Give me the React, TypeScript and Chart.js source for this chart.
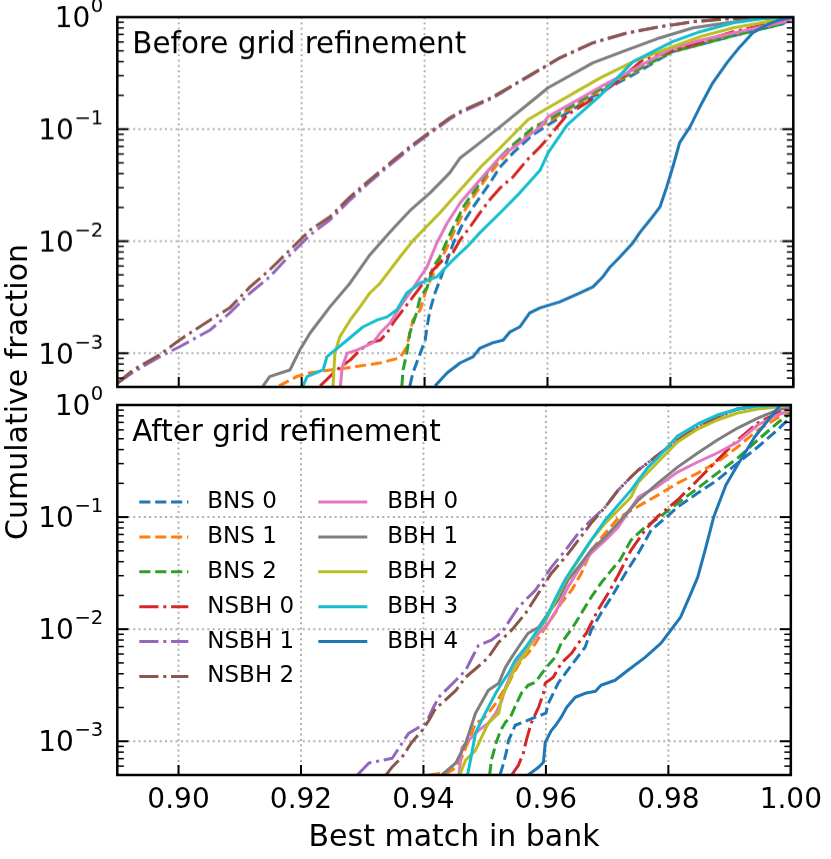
import { useEffect, useRef } from "react";
import { Chart, registerables } from "chart.js";

Chart.register(...registerables);

const FONT = "'DejaVu Sans', 'Liberation Sans', sans-serif";

// ---------- labels / categories ----------
const seriesNames = ["BNS 0", "BNS 1", "BNS 2", "NSBH 0", "NSBH 1", "NSBH 2", "BBH 0", "BBH 1", "BBH 2", "BBH 3", "BBH 4"];
const seriesColors = ["#1f77b4", "#ff7f0e", "#2ca02c", "#d62728", "#9467bd", "#8c564b", "#e377c2", "#7f7f7f", "#bcbd22", "#17becf", "#1f77b4"];
const seriesStyles = ["dashed", "dashed", "dashed", "dashdot", "dashdot", "dashdot", "solid", "solid", "solid", "solid", "solid"];
const xTickValues = [0.9, 0.92, 0.94, 0.96, 0.98, 1.0];
const yTickValues = [1e-3, 1e-2, 1e-1, 1];
const yTickBase = "10";
const yTickExponents = ["−3", "−2", "−1", "0"];
const panelTitles = ["Before grid refinement", "After grid refinement"];
const xAxisTitle = "Best match in bank";
const yAxisTitle = "Cumulative fraction";
const xMin = 0.89;
const xMax = 1.0;
const yMin = 5e-4;
const yMax = 1;

// ---------- Before grid refinement: [best match, cumulative fraction] ----------
const beforeBNS0 = [[0.9376,5.1e-4],[0.9381,6.7e-4],[0.9393,1.0e-3],[0.9401,1.31e-3],[0.9404,1.72e-3],[0.9409,2.44e-3],[0.9417,3.45e-3],[0.9425,4.5e-3],[0.9437,6.8e-3],[0.9447,9.66e-3],[0.9463,0.0146],[0.9479,0.0202],[0.9502,0.0305],[0.9523,0.046],[0.9544,0.0614],[0.9576,0.0889],[0.9601,0.109],[0.9686,0.215],[0.9739,0.305],[0.9803,0.49],[0.9902,0.68],[0.9983,0.87],[1.0,1.0]];
const beforeBNS1 = [[0.9163,5.1e-4],[0.9192,6.2e-4],[0.9214,6.7e-4],[0.9274,7.4e-4],[0.9328,8.2e-4],[0.936,9.1e-4],[0.9371,1.14e-3],[0.9381,1.98e-3],[0.9393,2.44e-3],[0.9404,3.91e-3],[0.942,5.9e-3],[0.9437,8.9e-3],[0.9447,0.0119],[0.9463,0.0179],[0.9479,0.0249],[0.9502,0.0375],[0.9523,0.0521],[0.9544,0.0695],[0.9576,0.0986],[0.9601,0.116],[0.9686,0.224],[0.9739,0.318],[0.9803,0.5],[0.9902,0.695],[0.9983,0.889],[1.0,1.0]];
const beforeBNS2 = [[0.9363,5.1e-4],[0.9365,7.1e-4],[0.9371,1.0e-3],[0.9376,1.52e-3],[0.9387,2.29e-3],[0.9393,3.18e-3],[0.9404,3.83e-3],[0.9414,5.9e-3],[0.9425,7.24e-3],[0.9437,0.0103],[0.9447,0.0134],[0.9463,0.0202],[0.9479,0.027],[0.9502,0.0407],[0.9523,0.0566],[0.9544,0.0724],[0.9576,0.1028],[0.9601,0.121],[0.9686,0.229],[0.9739,0.325],[0.9803,0.49],[0.9902,0.681],[0.9983,0.871],[1.0,1.0]];
const beforeNSBH0 = [[0.923,5.1e-4],[0.9257,7.1e-4],[0.9279,8.7e-4],[0.9295,1.07e-3],[0.9311,1.24e-3],[0.9328,1.31e-3],[0.9339,1.52e-3],[0.9349,1.87e-3],[0.9365,2.44e-3],[0.9381,3.18e-3],[0.9398,4.24e-3],[0.9414,5.55e-3],[0.943,6.8e-3],[0.9446,7.9e-3],[0.9458,0.0103],[0.9474,0.0134],[0.949,0.0179],[0.9506,0.0234],[0.9523,0.0299],[0.9544,0.0375],[0.9567,0.0532],[0.9588,0.0695],[0.9601,0.0836],[0.9632,0.134],[0.9686,0.205],[0.9713,0.264],[0.9756,0.42],[0.9803,0.5],[0.9902,0.739],[0.9983,0.927],[1.0,1.0]];
const beforeNSBH1 = [[0.89,5.4e-4],[0.8926,6.8e-4],[0.8969,9.3e-4],[0.9001,1.14e-3],[0.9051,1.61e-3],[0.9083,2.29e-3],[0.9116,3.45e-3],[0.9148,4.8e-3],[0.9181,7.55e-3],[0.9214,0.0114],[0.9246,0.0155],[0.9279,0.0234],[0.9311,0.0339],[0.9344,0.048],[0.9376,0.067],[0.9409,0.092],[0.9441,0.123],[0.9458,0.14],[0.9511,0.19],[0.9567,0.29],[0.962,0.43],[0.9674,0.59],[0.973,0.72],[0.9783,0.82],[0.9837,0.91],[0.9892,0.966],[1.0,1.0]];
const beforeNSBH2 = [[0.89,5.4e-4],[0.8926,7.1e-4],[0.8969,9.7e-4],[0.9001,1.31e-3],[0.9051,1.98e-3],[0.9083,2.54e-3],[0.9116,3.91e-3],[0.9148,5.55e-3],[0.9181,8.36e-3],[0.9214,0.0126],[0.9246,0.0165],[0.9279,0.0249],[0.9311,0.0353],[0.9344,0.05],[0.9376,0.0695],[0.9409,0.0946],[0.9441,0.126],[0.9458,0.143],[0.9511,0.194],[0.9567,0.293],[0.962,0.434],[0.9674,0.59],[0.973,0.724],[0.9783,0.819],[0.9837,0.908],[0.9892,0.966],[1.0,1.0]];
const beforeBBH0 = [[0.9263,5.1e-4],[0.9266,7.55e-4],[0.9274,1.0e-3],[0.929,1.07e-3],[0.9316,1.24e-3],[0.9328,1.52e-3],[0.9344,1.87e-3],[0.936,2.59e-3],[0.9376,3.45e-3],[0.9393,4.8e-3],[0.9404,5.9e-3],[0.942,9.66e-3],[0.9437,0.0146],[0.9458,0.022],[0.949,0.0352],[0.9523,0.0566],[0.9555,0.0755],[0.9588,0.105],[0.9601,0.129],[0.9686,0.238],[0.9739,0.338],[0.9803,0.53],[0.9848,0.62],[0.9902,0.72],[0.9957,0.84],[0.9994,0.93],[1.0,1.0]];
const beforeBBH1 = [[0.9137,5.1e-4],[0.9148,6.2e-4],[0.9181,7.1e-4],[0.9197,1.07e-3],[0.9214,1.52e-3],[0.9246,2.59e-3],[0.9279,4.24e-3],[0.9311,7.55e-3],[0.9344,0.0121],[0.9376,0.0187],[0.9409,0.027],[0.9441,0.0407],[0.9458,0.0554],[0.949,0.0755],[0.9523,0.105],[0.9567,0.165],[0.9601,0.234],[0.9674,0.391],[0.973,0.51],[0.9783,0.653],[0.9837,0.802],[0.9892,0.889],[0.9946,0.966],[1.0,1.0]];
const beforeBBH2 = [[0.9251,5.1e-4],[0.9254,1.0e-3],[0.9262,1.4e-3],[0.9279,1.98e-3],[0.9295,2.59e-3],[0.9311,3.45e-3],[0.9328,4.24e-3],[0.9344,5.55e-3],[0.936,7.24e-3],[0.9381,0.0101],[0.9425,0.0179],[0.9458,0.0287],[0.949,0.0451],[0.9523,0.068],[0.9568,0.121],[0.9601,0.155],[0.9686,0.287],[0.9739,0.399],[0.9803,0.543],[0.9848,0.667],[0.9902,0.802],[0.9957,0.908],[1.0,1.0]];
const beforeBBH3 = [[0.9202,5.1e-4],[0.9209,6.2e-4],[0.9235,7.1e-4],[0.9241,9.3e-4],[0.9274,1.31e-3],[0.93,1.72e-3],[0.9323,1.98e-3],[0.9339,2.11e-3],[0.9355,2.44e-3],[0.9371,3.45e-3],[0.9393,4.24e-3],[0.942,4.8e-3],[0.9446,6.8e-3],[0.9469,8.9e-3],[0.949,0.0119],[0.9523,0.0179],[0.9555,0.027],[0.9588,0.043],[0.9601,0.0615],[0.9632,0.109],[0.9686,0.2],[0.9739,0.399],[0.9803,0.602],[0.9848,0.739],[0.9902,0.889],[0.9957,0.986],[1.0,1.0]];
const beforeBBH4 = [[0.9417,5.1e-4],[0.9437,6.7e-4],[0.9458,8.2e-4],[0.9479,9.3e-4],[0.949,1.11e-3],[0.9511,1.24e-3],[0.9528,1.31e-3],[0.9539,1.55e-3],[0.9555,1.72e-3],[0.9571,2.29e-3],[0.9588,2.54e-3],[0.962,2.87e-3],[0.9653,3.45e-3],[0.9674,3.91e-3],[0.969,4.8e-3],[0.9702,5.9e-3],[0.9718,7.24e-3],[0.9739,9.66e-3],[0.975,0.0119],[0.9767,0.0155],[0.9783,0.0202],[0.9794,0.0305],[0.9804,0.046],[0.9815,0.0755],[0.9832,0.105],[0.9848,0.158],[0.9869,0.259],[0.9892,0.391],[0.9913,0.543],[0.9934,0.724],[0.9957,0.853],[0.9978,0.946],[1.0,1.0]];

// ---------- After grid refinement ----------
const afterBNS0 = [[0.9525,5e-4],[0.9531,6.4e-4],[0.9536,8.3e-4],[0.9539,1.02e-3],[0.955,1.39e-3],[0.9567,1.51e-3],[0.9583,1.64e-3],[0.96,1.78e-3],[0.9604,2.18e-3],[0.9612,2.68e-3],[0.962,3.3e-3],[0.9632,4.05e-3],[0.9648,5.3e-3],[0.9664,6.9e-3],[0.9674,9.8e-3],[0.969,0.0139],[0.9707,0.0193],[0.973,0.0316],[0.9751,0.0477],[0.9772,0.0766],[0.9795,0.098],[0.9815,0.123],[0.9848,0.164],[0.988,0.214],[0.9913,0.303],[0.9946,0.422],[0.9978,0.598],[1.0,0.782]];
const afterBNS1 = [[0.9409,5e-4],[0.9441,5.3e-4],[0.9454,5.86e-4],[0.9461,6.8e-4],[0.9469,8.8e-4],[0.9479,1.18e-3],[0.9485,1.45e-3],[0.9495,1.54e-3],[0.9506,1.78e-3],[0.9518,2.18e-3],[0.9528,2.68e-3],[0.9539,3.3e-3],[0.955,4.3e-3],[0.956,5.3e-3],[0.9571,6.1e-3],[0.9583,7.5e-3],[0.9593,9.2e-3],[0.9604,0.0113],[0.9615,0.0139],[0.9625,0.0171],[0.9642,0.0223],[0.9658,0.0316],[0.9674,0.0507],[0.9697,0.072],[0.9718,0.098],[0.9751,0.125],[0.9783,0.157],[0.9815,0.201],[0.9848,0.247],[0.988,0.31],[0.9913,0.422],[0.9946,0.598],[0.9978,0.765],[1.0,0.866]];
const afterBNS2 = [[0.9508,5e-4],[0.9511,6.8e-4],[0.9519,9.8e-4],[0.9526,1.25e-3],[0.9534,1.48e-3],[0.9542,1.64e-3],[0.9552,2.18e-3],[0.956,2.68e-3],[0.9571,3.16e-3],[0.9583,3.37e-3],[0.9591,3.88e-3],[0.9601,4.58e-3],[0.9615,5.6e-3],[0.9625,7.5e-3],[0.9637,9.2e-3],[0.9648,0.0113],[0.9658,0.0139],[0.9674,0.0193],[0.969,0.0258],[0.9707,0.0336],[0.9721,0.0413],[0.9739,0.0623],[0.9762,0.0814],[0.9788,0.102],[0.9815,0.133],[0.9848,0.181],[0.988,0.247],[0.9913,0.336],[0.9946,0.487],[0.9978,0.69],[1.0,0.849]];
const afterNSBH0 = [[0.9544,5e-4],[0.9555,6.1e-4],[0.9563,7.8e-4],[0.9568,1.02e-3],[0.9576,1.45e-3],[0.9588,2.01e-3],[0.9596,2.68e-3],[0.9599,3.3e-3],[0.9612,3.73e-3],[0.9625,4.97e-3],[0.9642,6.1e-3],[0.9653,7.5e-3],[0.9666,9.2e-3],[0.9674,0.0113],[0.9685,0.0148],[0.9702,0.021],[0.9718,0.0303],[0.9739,0.0507],[0.9762,0.0766],[0.9783,0.102],[0.9815,0.142],[0.9848,0.214],[0.988,0.323],[0.9913,0.487],[0.9946,0.69],[0.9978,0.849],[1.0,0.94]];
const afterNSBH1 = [[0.9292,5e-4],[0.9311,6.4e-4],[0.9349,7.05e-4],[0.9365,9.6e-4],[0.9376,1.18e-3],[0.9404,1.45e-3],[0.9414,1.89e-3],[0.9425,2.47e-3],[0.9453,3.5e-3],[0.9469,4.3e-3],[0.9479,5.5e-3],[0.949,7.2e-3],[0.9511,7.98e-3],[0.9528,9.4e-3],[0.9555,0.0157],[0.9583,0.0223],[0.9609,0.0358],[0.9632,0.0507],[0.9653,0.072],[0.9674,0.094],[0.9697,0.123],[0.9718,0.174],[0.9739,0.228],[0.9751,0.263],[0.9783,0.358],[0.9815,0.487],[0.9848,0.636],[0.988,0.782],[0.9913,0.921],[0.9946,0.98],[1.0,1.0]];
const afterNSBH2 = [[0.9339,5e-4],[0.9349,5.9e-4],[0.9365,7.2e-4],[0.9381,9.8e-4],[0.9398,1.25e-3],[0.9409,1.54e-3],[0.942,1.97e-3],[0.943,2.18e-3],[0.9453,2.85e-3],[0.9469,3.73e-3],[0.949,4.67e-3],[0.9506,5.6e-3],[0.9523,7.65e-3],[0.9544,9.8e-3],[0.9567,0.0139],[0.9588,0.021],[0.9609,0.0316],[0.9632,0.044],[0.9653,0.0623],[0.9674,0.0884],[0.9697,0.123],[0.9718,0.174],[0.9739,0.228],[0.9751,0.263],[0.9783,0.358],[0.9815,0.487],[0.9848,0.636],[0.988,0.782],[0.9913,0.921],[0.9946,0.98],[1.0,1.0]];
const afterBBH0 = [[0.9458,5e-4],[0.9463,8.8e-4],[0.9474,1.02e-3],[0.949,1.25e-3],[0.9506,1.45e-3],[0.9518,1.78e-3],[0.9528,2.32e-3],[0.9534,3.03e-3],[0.9544,4.05e-3],[0.9555,5.3e-3],[0.9571,6.9e-3],[0.9588,9.2e-3],[0.9604,0.0113],[0.962,0.0157],[0.9636,0.0237],[0.9653,0.0336],[0.9674,0.0477],[0.9697,0.0623],[0.9718,0.0814],[0.9751,0.151],[0.9783,0.189],[0.9815,0.252],[0.9848,0.31],[0.988,0.373],[0.9913,0.467],[0.9946,0.663],[0.9978,0.814],[1.0,0.9]];
const afterBBH1 = [[0.943,5e-4],[0.9453,6.4e-4],[0.9469,9.6e-4],[0.9485,1.78e-3],[0.9506,2.85e-3],[0.9523,3.3e-3],[0.9534,4.58e-3],[0.9544,5.6e-3],[0.9555,6.9e-3],[0.9571,9.2e-3],[0.9588,0.0104],[0.9604,0.0139],[0.962,0.0182],[0.9636,0.0274],[0.9653,0.0358],[0.9674,0.0507],[0.9697,0.0663],[0.9718,0.0884],[0.9751,0.142],[0.9783,0.201],[0.9815,0.279],[0.9848,0.373],[0.988,0.487],[0.9913,0.623],[0.9946,0.765],[0.9978,0.9],[1.0,0.96]];
const afterBBH2 = [[0.9459,5e-4],[0.9469,6.8e-4],[0.9485,8.3e-4],[0.9495,1.09e-3],[0.9506,1.45e-3],[0.9523,1.78e-3],[0.9528,2.47e-3],[0.9539,3.3e-3],[0.955,4.58e-3],[0.9567,6.1e-3],[0.9583,9.2e-3],[0.96,0.012],[0.9616,0.0182],[0.9632,0.0274],[0.9653,0.0413],[0.9674,0.0623],[0.9697,0.0884],[0.9718,0.115],[0.9739,0.151],[0.9751,0.205],[0.9783,0.31],[0.9815,0.467],[0.9848,0.61],[0.988,0.735],[0.9913,0.849],[0.9946,0.92],[0.9978,0.96],[1.0,0.99]];
const afterBBH3 = [[0.9472,5e-4],[0.9479,7.8e-4],[0.9485,1.18e-3],[0.9495,1.54e-3],[0.9506,2.01e-3],[0.9518,2.68e-3],[0.9528,3.3e-3],[0.9539,4.05e-3],[0.955,5.3e-3],[0.9567,6.9e-3],[0.9583,9.2e-3],[0.96,0.0125],[0.9616,0.019],[0.9632,0.028],[0.9653,0.042],[0.9674,0.0623],[0.9697,0.094],[0.9718,0.128],[0.9739,0.174],[0.9751,0.214],[0.9767,0.279],[0.9783,0.34],[0.9815,0.529],[0.9848,0.677],[0.988,0.814],[0.9913,0.921],[0.9946,0.98],[1.0,1.0]];
const afterBBH4 = [[0.9571,5e-4],[0.9588,5.86e-4],[0.9596,6.5e-4],[0.9599,9.8e-4],[0.9609,1.25e-3],[0.9616,1.39e-3],[0.9625,1.64e-3],[0.9634,2.01e-3],[0.9648,2.47e-3],[0.9664,2.68e-3],[0.9681,2.79e-3],[0.969,3.16e-3],[0.9713,3.5e-3],[0.9734,4.3e-3],[0.9762,5.6e-3],[0.9788,7.5e-3],[0.9804,9.8e-3],[0.982,0.0128],[0.9837,0.021],[0.9848,0.0291],[0.986,0.0507],[0.9874,0.1],[0.9894,0.193],[0.9913,0.291],[0.9941,0.518],[0.9967,0.782],[0.9983,1.0],[1.0,1.0]];

const beforeSeries = [beforeBNS0, beforeBNS1, beforeBNS2, beforeNSBH0, beforeNSBH1, beforeNSBH2, beforeBBH0, beforeBBH1, beforeBBH2, beforeBBH3, beforeBBH4];
const afterSeries = [afterBNS0, afterBNS1, afterBNS2, afterNSBH0, afterNSBH1, afterNSBH2, afterBBH0, afterBBH1, afterBBH2, afterBBH3, afterBBH4];

// ---------- styling ----------
const LINE_W = 3;
function dashFor(style: string): number[] {
  if (style === "dashed") return [11.1, 4.8];
  if (style === "dashdot") return [19.2, 4.8, 3, 4.8];
  return [];
}

const FIG_W = 831;
const FIG_H = 859;
const AREA_LEFT = 117.3;
const AREA_RIGHT = 793.3;
const TOP_AREA_TOP = 17.3;
const TOP_AREA_BOTTOM = 386.7;
const BOT_AREA_TOP = 405;
const BOT_AREA_BOTTOM = 775;
const VPAD = 34;
const TOP_CANVAS_TOP = TOP_AREA_TOP - VPAD;
const TOP_CANVAS_H = TOP_AREA_BOTTOM + VPAD - TOP_CANVAS_TOP;
const BOT_CANVAS_TOP = BOT_AREA_TOP - VPAD;
const BOT_CANVAS_H = FIG_H - BOT_CANVAS_TOP;
const TICK_FONT = 28;
const SUP_FONT = 19.6;

function makeDatasets(series: number[][][]) {
  return series.map((pts, i) => ({
    label: seriesNames[i],
    data: pts.map(([x, y]) => ({ x, y })),
    borderColor: seriesColors[i],
    backgroundColor: seriesColors[i],
    borderWidth: LINE_W,
    borderDash: dashFor(seriesStyles[i]),
    borderCapStyle: "butt" as const,
    borderJoinStyle: "round" as const,
    pointRadius: 0,
    pointHoverRadius: 0,
    fill: false,
    tension: 0,
    order: series.length - i,
  }));
}

function line(ctx: CanvasRenderingContext2D, x1: number, y1: number, x2: number, y2: number) {
  ctx.beginPath();
  ctx.moveTo(x1, y1);
  ctx.lineTo(x2, y2);
  ctx.stroke();
}

function framePlugin(panelIndex: number) {
  return {
    id: "mplFrame" + panelIndex,
    beforeDatasetsDraw(chart: any) {
      const { ctx, chartArea } = chart;
      const { left, right, top, bottom } = chartArea;
      const xs = chart.scales.x;
      const ys = chart.scales.y;
      ctx.save();
      ctx.strokeStyle = "#b0b0b0";
      ctx.lineWidth = 2;
      ctx.setLineDash([2, 3.3]);
      for (const v of xTickValues) {
        const px = xs.getPixelForValue(v);
        if (px <= left + 1 || px >= right - 1) continue;
        line(ctx, px, top, px, bottom);
      }
      for (const v of yTickValues) {
        const py = ys.getPixelForValue(v);
        if (py <= top + 1 || py >= bottom - 1) continue;
        line(ctx, left, py, right, py);
      }
      ctx.restore();
    },
    afterDatasetsDraw(chart: any) {
      const { ctx, chartArea } = chart;
      const { left, right, top, bottom } = chartArea;
      const xs = chart.scales.x;
      const ys = chart.scales.y;
      ctx.save();
      ctx.setLineDash([]);
      ctx.strokeStyle = "#000";
      ctx.lineWidth = 2;
      for (const v of yTickValues) {
        const py = ys.getPixelForValue(v);
        if (py < top - 0.5 || py > bottom + 0.5) continue;
        line(ctx, left, py, left + 11, py);
        line(ctx, right, py, right - 11, py);
      }
      ctx.lineWidth = 1.5;
      for (let d = -4; d <= 0; d++) {
        for (let m = 2; m <= 9; m++) {
          const v = m * Math.pow(10, d);
          if (v <= yMin * 1.001 || v >= yMax) continue;
          const py = ys.getPixelForValue(v);
          line(ctx, left, py, left + 6.5, py);
          line(ctx, right, py, right - 6.5, py);
        }
      }
      ctx.lineWidth = 2;
      for (const v of xTickValues) {
        const px = xs.getPixelForValue(v);
        line(ctx, px, bottom, px, bottom - 10);
      }
      ctx.lineWidth = 2.5;
      ctx.strokeRect(left, top, right - left, bottom - top);

      // y tick labels, mathtext-like 10^n
      ctx.fillStyle = "#000";
      ctx.textBaseline = "alphabetic";
      ctx.textAlign = "left";
      const labelRight = left - 14;
      yTickValues.forEach((v, i) => {
        const py = ys.getPixelForValue(v);
        ctx.font = `${SUP_FONT}px ${FONT}`;
        const expW = ctx.measureText(yTickExponents[i]).width;
        ctx.font = `${TICK_FONT}px ${FONT}`;
        const baseW = ctx.measureText(yTickBase).width;
        const baseX = labelRight - expW - baseW - 0.5;
        const baseline = py + 10.2;
        ctx.fillText(yTickBase, baseX, baseline);
        ctx.font = `${SUP_FONT}px ${FONT}`;
        ctx.fillText(yTickExponents[i], baseX + baseW + 0.5, baseline - 15);
      });

      ctx.font = `29.4px ${FONT}`;
      ctx.fillText(panelTitles[panelIndex], left + 15, top + 36.3);

      if (panelIndex === 1) {
        ctx.font = `23px ${FONT}`;
        ctx.textBaseline = "middle";
        const rowY0 = top + 97;
        const rowStep = 34.9;
        const cols = [
          { idx: [0, 1, 2, 3, 4, 5], hx: left + 22, tx: left + 90 },
          { idx: [6, 7, 8, 9, 10], hx: left + 201, tx: left + 270 },
        ];
        for (const col of cols) {
          col.idx.forEach((si, r) => {
            const yy = rowY0 + r * rowStep;
            ctx.strokeStyle = seriesColors[si];
            ctx.lineWidth = LINE_W;
            ctx.lineCap = "butt";
            ctx.setLineDash(dashFor(seriesStyles[si]));
            line(ctx, col.hx, yy, col.hx + 49, yy);
            ctx.setLineDash([]);
            ctx.fillStyle = "#000";
            ctx.fillText(seriesNames[si], col.tx, yy);
          });
        }
      }
      ctx.restore();
    },
  };
}

function makeConfig(panelIndex: number, series: number[][][], showX: boolean, canvasH: number, areaTop: number, areaBottom: number): any {
  return {
    type: "line",
    data: { datasets: makeDatasets(series) },
    options: {
      animation: false,
      responsive: false,
      maintainAspectRatio: false,
      events: [],
      layout: {
        padding: {
          left: 0,
          right: FIG_W - AREA_RIGHT,
          top: areaTop,
          bottom: showX ? 0 : canvasH - areaBottom,
        },
      },
      plugins: {
        legend: { display: false },
        tooltip: { enabled: false },
        title: { display: false },
      },
      scales: {
        x: {
          type: "linear",
          min: xMin,
          max: xMax,
          display: showX,
          grid: { display: false, drawTicks: false },
          border: { display: false },
          afterBuildTicks: (s: any) => {
            s.ticks = xTickValues.map((v) => ({ value: v }));
          },
          afterFit: (s: any) => {
            if (showX) s.height = canvasH - areaBottom;
          },
          ticks: {
            autoSkip: false,
            maxRotation: 0,
            color: "#000",
            padding: 9,
            font: { family: FONT, size: TICK_FONT },
            callback: (v: number) => Number(v).toFixed(2),
          },
          title: {
            display: showX,
            text: xAxisTitle,
            color: "#000",
            font: { family: FONT, size: 30 },
            padding: { top: 0, bottom: 3 },
          },
        },
        y: {
          type: "logarithmic",
          min: yMin,
          max: yMax,
          grid: { display: false, drawTicks: false },
          border: { display: false },
          afterBuildTicks: (s: any) => {
            s.ticks = yTickValues.map((v) => ({ value: v, major: true }));
          },
          afterFit: (s: any) => {
            s.width = AREA_LEFT;
          },
          ticks: { display: false },
        },
      },
    },
    plugins: [framePlugin(panelIndex)],
  };
}

export default function App() {
  const topRef = useRef<HTMLCanvasElement | null>(null);
  const botRef = useRef<HTMLCanvasElement | null>(null);

  useEffect(() => {
    if (!topRef.current || !botRef.current) return;
    const top = new Chart(
      topRef.current,
      makeConfig(0, beforeSeries, false, TOP_CANVAS_H, TOP_AREA_TOP - TOP_CANVAS_TOP, TOP_AREA_BOTTOM - TOP_CANVAS_TOP)
    );
    const bot = new Chart(
      botRef.current,
      makeConfig(1, afterSeries, true, BOT_CANVAS_H, BOT_AREA_TOP - BOT_CANVAS_TOP, BOT_AREA_BOTTOM - BOT_CANVAS_TOP)
    );
    return () => {
      top.destroy();
      bot.destroy();
    };
  }, []);

  return (
    <div
      style={{
        position: "fixed",
        left: 0,
        top: 0,
        width: FIG_W,
        height: FIG_H,
        background: "#fff",
        overflow: "hidden",
      }}
    >
      <canvas
        ref={topRef}
        width={FIG_W}
        height={TOP_CANVAS_H}
        style={{ position: "absolute", left: 0, top: TOP_CANVAS_TOP, width: FIG_W, height: TOP_CANVAS_H }}
      />
      <canvas
        ref={botRef}
        width={FIG_W}
        height={BOT_CANVAS_H}
        style={{ position: "absolute", left: 0, top: BOT_CANVAS_TOP, width: FIG_W, height: BOT_CANVAS_H }}
      />
      <div
        style={{
          position: "absolute",
          left: 16.6,
          top: 392,
          transform: "translate(-50%, -50%) rotate(-90deg)",
          whiteSpace: "nowrap",
          fontFamily: FONT,
          fontSize: 30,
          lineHeight: 1,
          color: "#000",
        }}
      >
        {yAxisTitle}
      </div>
    </div>
  );
}
